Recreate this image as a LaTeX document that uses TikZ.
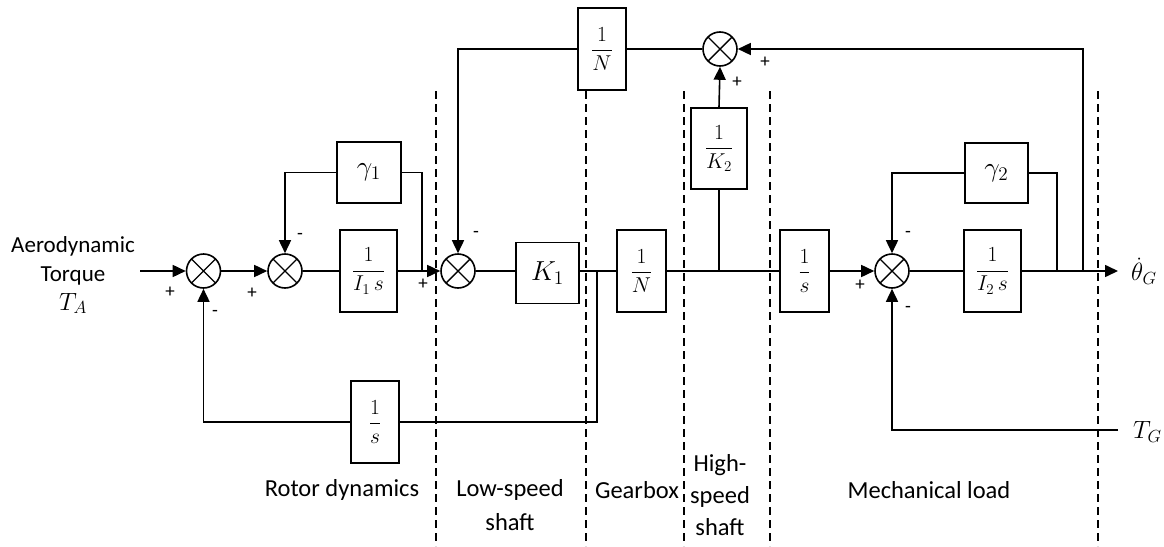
\RequirePackage{fix-cm}
\documentclass[tikz,border=0pt]{standalone}
\usepackage{fontspec}
\setmainfont{Carlito}
\usetikzlibrary{arrows.meta}
\newcommand\blkfont{\fontsize{21.5}{25}\selectfont}
\newcommand\sgnfont{\fontsize{19}{22}\selectfont}
\newcommand\lblfont{\fontsize{24.5}{30}\selectfont}
\newcommand\bigsym[1]{\scalebox{1.28}{$#1$}}
\tikzset{
  sig/.style={line width=1.6pt},
  arr/.style={sig,-{Triangle[length=13pt,width=12pt]}},
  sumj/.style={circle,draw,line width=1.6pt,minimum size=34pt,inner sep=0pt,
    path picture={\draw[line width=1.4pt]
      (path picture bounding box.north west)--(path picture bounding box.south east)
      (path picture bounding box.north east)--(path picture bounding box.south west);}},
  blk/.style={draw,line width=1.6pt,inner sep=0pt,font=\blkfont},
  sgn/.style={font=\sgnfont,inner sep=0pt},
  zone/.style={line width=1.5pt,dash pattern=on 8pt off 5pt},
  lbl/.style={font=\lblfont,align=center,inner sep=0pt}
}
\begin{document}
\begin{tikzpicture}[x=1pt,y=-1pt]
\useasboundingbox (0,0) rectangle (1164,546);

% zone separators
\foreach \zx in {436,586,684,770,1098}
  \draw[zone] (\zx,91) -- (\zx,546);

% summing junctions
\node[sumj] (S1) at (203.5,271) {};
\node[sumj] (S2) at (285,271) {};
\node[sumj] (S3) at (458,271) {};
\node[sumj] (S4) at (720,49) {};
\node[sumj] (S5) at (892,271) {};

% transfer blocks
\node[blk,minimum width=57pt,minimum height=82pt] (I1s) at (368.5,271) {$\displaystyle\frac{1}{I_1\, s}$};
\node[blk,minimum width=64pt,minimum height=61pt,fill=white] (g1) at (369,172.5) {\bigsym{\gamma_1}};
\node[blk,minimum width=48pt,minimum height=82pt] (s1) at (375,422) {$\displaystyle\frac{1}{s}$};
\node[blk,minimum width=63pt,minimum height=61pt,fill=white] (K1) at (547.5,273) {\bigsym{K_1}};
\node[blk,minimum width=49pt,minimum height=82pt,fill=white] (N1) at (641.5,271) {$\displaystyle\frac{1}{N}$};
\node[blk,minimum width=48pt,minimum height=82pt,fill=white] (Nt) at (602,49) {$\displaystyle\frac{1}{N}$};
\node[blk,minimum width=56pt,minimum height=81pt,fill=white] (K2) at (719,148.5) {$\displaystyle\frac{1}{K_2}$};
\node[blk,minimum width=49pt,minimum height=82pt,fill=white] (s2) at (804.5,271) {$\displaystyle\frac{1}{s}$};
\node[blk,minimum width=57pt,minimum height=82pt] (I2s) at (992.5,271) {$\displaystyle\frac{1}{I_2\, s}$};
\node[blk,minimum width=63pt,minimum height=60pt] (g2) at (996.5,173) {\bigsym{\gamma_2}};

% branch points and free ends
\coordinate (in) at (140,271);
\coordinate (j1) at (422,271);
\coordinate (j2) at (597,271);
\coordinate (j3) at (719,271);
\coordinate (j4) at (1057,271);
\coordinate (j5) at (1083,271);
\coordinate (out) at (1118,271);
\coordinate (tg) at (1118,430);

% forward path
\draw[arr] (in) -- (S1.west);
\draw[arr] (S1.east) -- (S2.west);
\draw[sig] (S2.east) -- (I1s.west);
\draw[arr] (I1s.east) -- (S3.west);
\draw[sig] (S3.east) -- (K1.west |- S3.east);
\draw[sig] (K1.east |- j2) -- (N1.west);
\draw[sig] (N1.east) -- (s2.west);
\draw[arr] (s2.east) -- (S5.west);
\draw[sig] (S5.east) -- (I2s.west);
\draw[arr] (I2s.east) -- (out);

% feedback loops
\draw[sig] (j1) |- (g1.east);
\draw[arr] (g1.west) -| (S2.north);
\draw[sig] (j2) |- (s1.east);
\draw[arr] (s1.west) -| (S1.south);
\draw[sig] (j3) -- (K2.south);
\draw[arr] (K2.north) -- (S4.south);
\draw[sig] (j4) |- (g2.east);
\draw[arr] (g2.west) -| (S5.north);
\draw[arr] (j5) |- (S4.east);
\draw[sig] (S4.west) -- (Nt.east);
\draw[arr] (Nt.west) -| (S3.north);
\draw[arr] (tg) -| (S5.south);

% signs
\node[sgn] (p1) at (170,292) {+};
\node[sgn] (m1) at (215,313) {-};
\node[sgn] (p2) at (252,293) {+};
\node[sgn] (m2) at (300,236) {-};
\node[sgn] (p3) at (423,284) {+};
\node[sgn] (m3) at (476,234) {-};
\node[sgn] (p4) at (737,82) {+};
\node[sgn] (p5) at (765,62) {+};
\node[sgn] (p6) at (860,285) {+};
\node[sgn] (m4) at (908,234) {-};
\node[sgn] (m5) at (908,309) {-};

% signal names
\node[lbl,font=\fontsize{23}{29}\selectfont] (TA) at (73,275) {Aerodynamic\\Torque\\{\fontsize{25}{29}\selectfont$T_A$}};
\node[lbl,anchor=west] (thG) at (1131,271) {{\fontsize{25}{29}\selectfont$\dot{\theta}_G$}};
\node[lbl,anchor=west] (TG) at (1133,432) {{\fontsize{25}{29}\selectfont$T_G$}};

% zone names
\node[lbl] (zr) at (342,490) {Rotor dynamics};
\node[lbl,font=\fontsize{24.5}{34}\selectfont] (zl) at (510,505) {Low-speed\\shaft};
\node[lbl] (zg) at (637,490) {Gearbox};
\node[lbl,font=\fontsize{24.5}{32}\selectfont] (zh) at (720,495) {High-\\speed\\shaft};
\node[lbl] (zm) at (929,490) {Mechanical load};
\end{tikzpicture}
\end{document}
